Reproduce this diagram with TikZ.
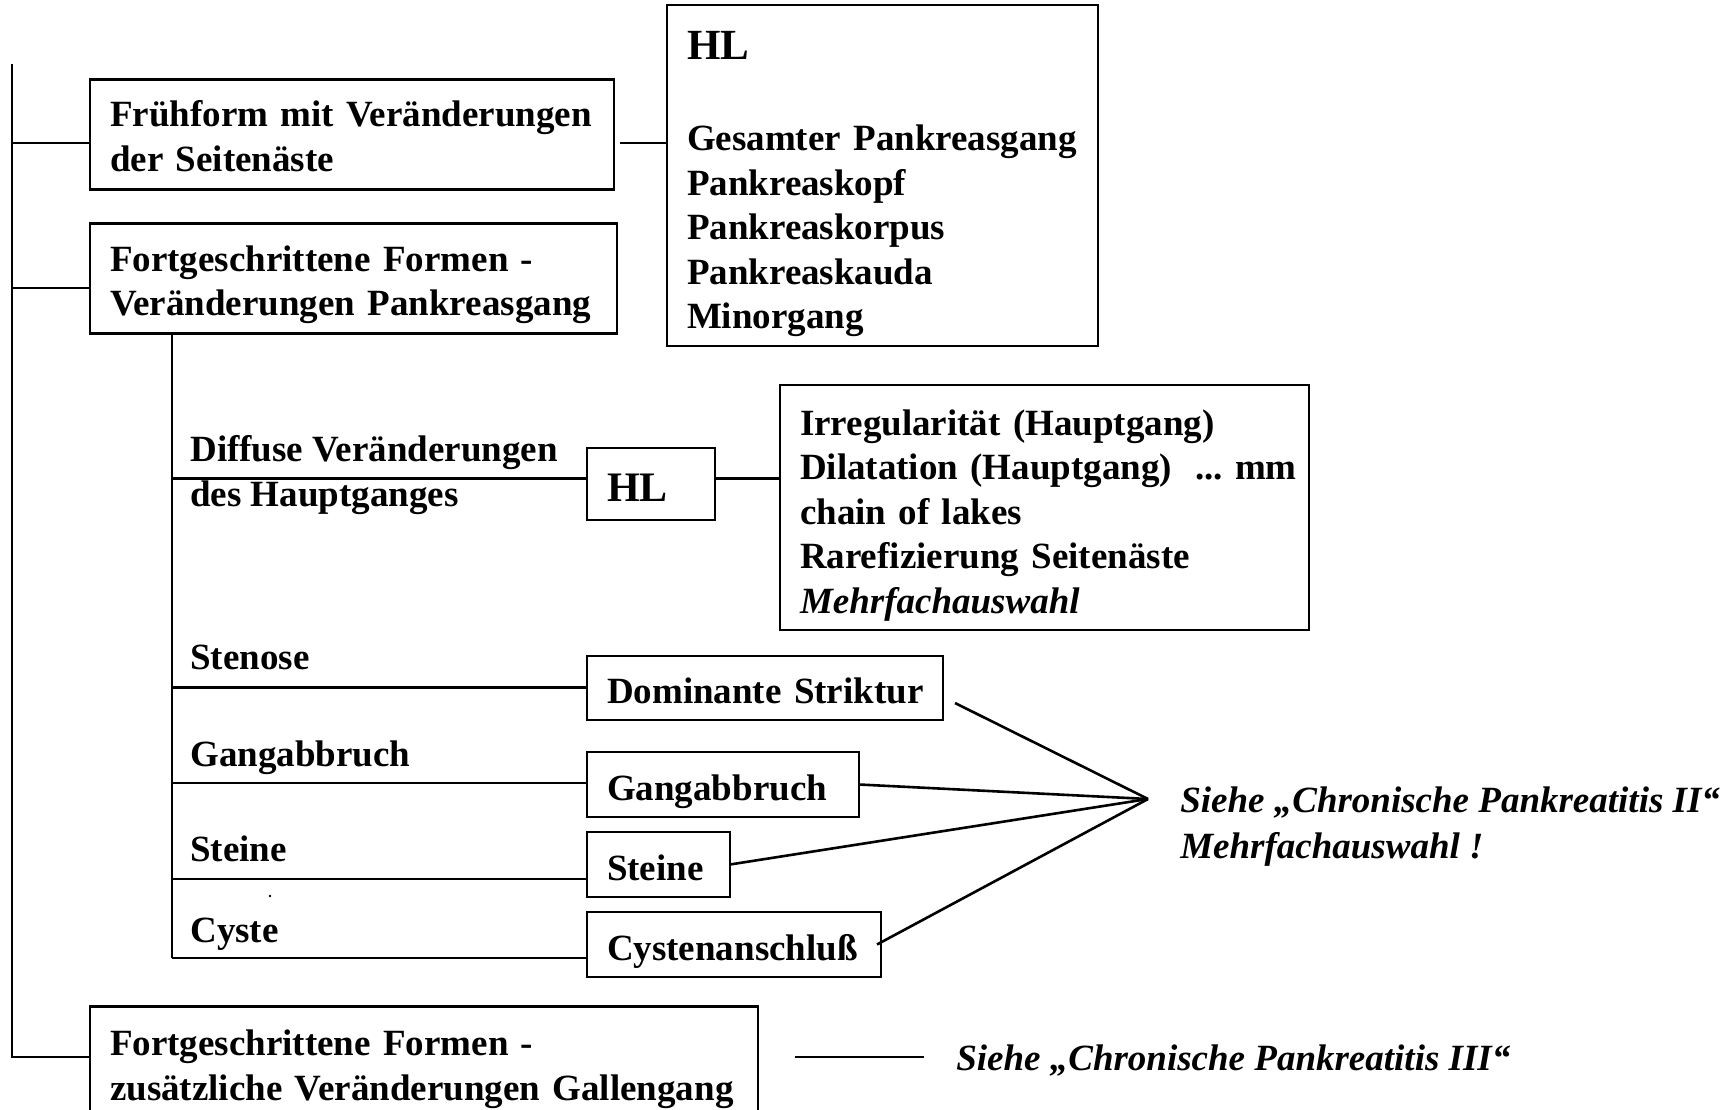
\documentclass[tikz,border=0pt]{standalone}
\usepackage{fontspec}
\setmainfont{Liberation Serif}
\usetikzlibrary{calc}
% invisible strut that lifts the top of the first text line
\newcommand{\boxstrut}[1]{\rule{0pt}{#1}}
\begin{document}
\begin{tikzpicture}[x=1pt,y=-1pt,line width=2.6pt,
  txt/.style={font=\fontsize{37}{44.5}\selectfont\bfseries},
  box/.style={draw,txt,inner xsep=20pt,inner ysep=0pt,align=left,outer sep=0pt},
  onebox/.style={box,text height=34pt,text depth=3pt},
  lbl/.style={txt,inner sep=0pt,align=left,anchor=base west},
  ref/.style={lbl,font=\fontsize{37}{46}\selectfont\bfseries\itshape},
]
\useasboundingbox (0,0) rectangle (1725,1110);

% main forms
\node[box,minimum width=524pt,minimum height=110pt,text width=484pt] (b1) at (352,134.5)
  {\boxstrut{29pt}\mbox{Frühform mit Veränderungen}\\der Seitenäste};
\node[box,minimum width=527pt,minimum height=110pt,text width=487pt] (b2) at (353.5,278.5)
  {\boxstrut{38pt}Fortgeschrittene Formen -\\\mbox{Veränderungen Pankreasgang}};
\node[box,anchor=north west,minimum width=668pt,minimum height=118pt,text width=628pt] (b5) at (90,1006.5)
  {\boxstrut{33pt}Fortgeschrittene Formen -\\\mbox{zusätzliche Veränderungen Gallengang}};

% localisation box
\node[box,minimum width=431pt,minimum height=341pt,text width=391pt] (hl) at (882.5,175.5)
  {\boxstrut{46pt}{\fontsize{43}{44.5}\selectfont HL}\\[46.5pt]\mbox{Gesamter Pankreasgang}\\Pankreaskopf\\Pankreaskorpus\\Pankreaskauda\\Minorgang};

% diffuse changes
\node[box,minimum width=128pt,minimum height=72pt,text width=88pt,text height=35pt,text depth=0pt,
  font=\fontsize{42}{44.5}\selectfont\bfseries] (hls) at (651,484) {HL};
\node[box,minimum width=529pt,minimum height=245pt,text width=489pt] (det) at (1044.5,507.5)
  {\boxstrut{41pt}Irregularität (Hauptgang)\\\mbox{Dilatation (Hauptgang)\hspace{23pt}...\ mm}\\chain of lakes\\Rarefizierung Seitenäste\\\textit{Mehrfachauswahl}};

% focal findings
\node[onebox,minimum width=356pt,minimum height=64pt,text width=316pt] (dom) at (765,688) {\mbox{Dominante Striktur}};
\node[onebox,minimum width=272pt,minimum height=65pt,text width=232pt] (gang) at (723,784.5) {Gangabbruch};
\node[onebox,minimum width=143pt,minimum height=65pt,text width=103pt] (stei) at (658.5,864.5) {Steine};
\node[onebox,minimum width=294pt,minimum height=65pt,text width=254pt] (cyst) at (734,944.5) {\mbox{Cystenanschluß}};

% branch labels (base = baseline of the last line)
\node[lbl] (l1) at (189,506) {Diffuse Veränderungen\\des Hauptganges};
\node[lbl] (l2) at (189,669) {Stenose};
\node[lbl] (l3) at (189,766) {Gangabbruch};
\node[lbl] (l4) at (189,861) {Steine};
\node[lbl] (l5) at (189,942) {Cyste};

% references
\node[ref] (s2) at (1179,858) {Siehe „Chronische Pankreatitis II“\\Mehrfachauswahl !};
\node[ref] (s3) at (955,1070) {Siehe „Chronische Pankreatitis III“};

% main trunk
\coordinate (ttop) at (12,64);
\coordinate (j1) at (12,143);
\coordinate (j2) at (12,288);
\coordinate (j5) at (12,1057);
\draw (ttop) -- (j5) -- (j5 -| b5.west);
\draw (j1) -- (j1 -| b1.west);
\draw (j2) -- (j2 -| b2.west);
\draw ([xshift=6pt]j1 -| b1.east) -- (j1 -| hl.west);

% sub trunk
\coordinate (k1) at (172,478.5);
\coordinate (k2) at (172,687.5);
\coordinate (k3) at (172,783);
\coordinate (k4) at (172,879);
\coordinate (k5) at (172,958);
\draw (b2.south -| k1) -- (k5);
\draw (k1) -- (k1 -| hls.west);
\draw (k1 -| hls.east) -- (k1 -| det.west);
\draw (k2) -- (k2 -| dom.west);
\draw (k3) -- (k3 -| gang.west);
\draw (k4) -- (k4 -| stei.west);
\draw (k5) -- (k5 -| cyst.west);

% fan to the reference
\coordinate (fan) at (1148,799);
\coordinate (f1) at ([shift={(12,15)}]dom.east);
\draw (f1) -- (fan);
\draw (gang.east) -- (fan);
\draw (stei.east) -- (fan);
\draw ([xshift=-4pt]cyst.east) -- (fan);

% bile duct reference
\coordinate (g1) at ([xshift=37pt]j5 -| b5.east);
\coordinate (g2) at ([xshift=-31pt]j5 -| s3.west);
\draw (g1) -- (g2);

\fill (270,896) circle (1.4pt);
\end{tikzpicture}
\end{document}
